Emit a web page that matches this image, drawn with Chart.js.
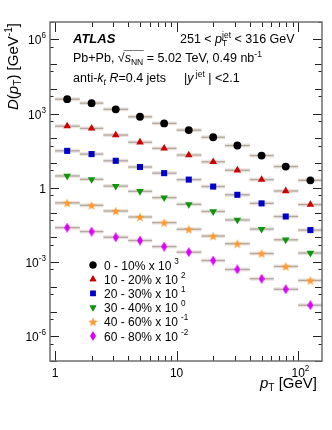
<!DOCTYPE html>
<html>
<head>
<meta charset="utf-8">
<script src="https://cdn.jsdelivr.net/npm/chart.js@4.4.1/dist/chart.umd.min.js"></script>
<style>
  html, body { margin: 0; padding: 0; background: #fff; }
  #wrap { width: 332px; height: 430px; }
</style>
</head>
<body>
<div id="wrap"><canvas id="chart" width="332" height="430"></canvas></div>
<script>
// pT bins (GeV): edges and centres
const binEdges = [1, 1.6, 2.5, 4, 6.3, 10, 16, 25, 40, 63, 100, 158];
const ptCenters = [1.26, 2.0, 3.16, 5.0, 7.9, 12.6, 20, 31.6, 50, 79, 126];

// D(pT) per centrality, already scaled as in the legend
const cent0to10 = [3800, 2630, 1480, 740, 400, 214, 110, 51, 20, 7.2, 2.0];
const cent10to20 = [309, 251, 135, 69, 39, 21, 11.2, 5.1, 2.14, 0.74, 0.21];
const cent20to30 = [31, 23, 12.3, 6.9, 3.9, 2.14, 1.12, 0.52, 0.234, 0.069, 0.0195];
const cent30to40 = [3.0, 2.19, 1.17, 0.72, 0.40, 0.214, 0.11, 0.050, 0.0214, 0.0079, 0.0023];
const cent40to60 = [0.245, 0.195, 0.115, 0.066, 0.039, 0.021, 0.0112, 0.0055, 0.0022, 0.00066, 0.00018];
const cent60to80 = [0.0245, 0.017, 0.010, 0.0074, 0.0042, 0.0025, 0.00115, 0.0005, 0.00021, 0.000079, 0.000018];

const legendLabels = ["0 - 10% x 10", "10 - 20% x 10", "20 - 30% x 10", "30 - 40% x 10", "40 - 60% x 10", "60 - 80% x 10"];
const legendExponents = ["3", "2", "1", "0", "-1", "-2"];

const xTickValues = [1, 10, 100];
const xTickLabels = [["1", ""], ["10", ""], ["10", "2"]];
const yTickValues = [1e-6, 1e-3, 1, 1e3, 1e6];
const yTickLabels = [["10", "-6"], ["10", "-3"], ["1", ""], ["10", "3"], ["10", "6"]];

const FONT = '"Liberation Sans", Arial, Helvetica, sans-serif';

function makeStar(color, size) {
  const c = document.createElement("canvas");
  c.width = size; c.height = size;
  const g = c.getContext("2d");
  const cx = size / 2, cy = size / 2, ro = size / 2, ri = ro * 0.42;
  g.beginPath();
  for (let i = 0; i < 10; i += 1) {
    const r = i % 2 === 0 ? ro : ri;
    const a = -Math.PI / 2 + (i * Math.PI) / 5;
    const px = cx + r * Math.cos(a), py = cy + r * Math.sin(a) + 0.5;
    if (i === 0) g.moveTo(px, py); else g.lineTo(px, py);
  }
  g.closePath();
  g.fillStyle = color;
  g.fill();
  return c;
}

function makeDiamond(color, w, h) {
  const c = document.createElement("canvas");
  c.width = w; c.height = h;
  const g = c.getContext("2d");
  g.beginPath();
  g.moveTo(w / 2, 0);
  g.lineTo(w, h / 2);
  g.lineTo(w / 2, h);
  g.lineTo(0, h / 2);
  g.closePath();
  g.fillStyle = color;
  g.fill();
  return c;
}

const series = [
  { values: cent0to10, color: "#000000", style: "circle", radius: 3.9, rotation: 0 },
  { values: cent10to20, color: "#cc0000", style: "triangle", radius: 4.4, rotation: 0 },
  { values: cent20to30, color: "#0000cc", style: "rect", radius: 4.3, rotation: 0 },
  { values: cent30to40, color: "#0f960f", style: "triangle", radius: 4.4, rotation: 180 },
  { values: cent40to60, color: "#ff9a33", style: makeStar("#ff9a33", 10), radius: 5, rotation: 0 },
  { values: cent60to80, color: "#dd00ff", style: makeDiamond("#dd00ff", 6, 10), radius: 5, rotation: 0 },
];

// horizontal bin-width bars with a light systematic band
const errorBars = {
  id: "errorBars",
  beforeDatasetsDraw(chart) {
    const { ctx, scales: { x, y } } = chart;
    ctx.save();
    series.forEach((s) => {
      s.values.forEach((v, j) => {
        const x0 = x.getPixelForValue(binEdges[j]);
        const x1 = x.getPixelForValue(binEdges[j + 1]);
        const py = y.getPixelForValue(v);
        ctx.fillStyle = "rgba(215,208,200,0.55)";
        ctx.fillRect(x0, py - 2, x1 - x0, 4);
        ctx.strokeStyle = "#b3a79c";
        ctx.lineWidth = 1.3;
        ctx.beginPath();
        ctx.moveTo(x0, py);
        ctx.lineTo(x1, py);
        ctx.stroke();
      });
    });
    ctx.restore();
  },
};

function drawRich(ctx, x, y, segs, size, align) {
  let w = 0;
  const pieces = segs.map((s) => {
    const fs = s.small ? size * 0.68 : size;
    const font = `${s.it ? "italic " : ""}${s.b ? "bold " : ""}${fs}px ${FONT}`;
    ctx.font = font;
    const mw = ctx.measureText(s.t).width;
    const p = { s, font, x: w + (s.dx || 0), mw };
    if (!s.stay) w += mw + (s.dx || 0);
    return p;
  });
  const x0 = align === "right" ? x - w : x;
  pieces.forEach((p) => {
    ctx.font = p.font;
    ctx.fillText(p.s.t, x0 + p.x, y + (p.s.dy || 0));
    if (p.s.over) {
      ctx.save();
      ctx.lineWidth = 0.9;
      ctx.beginPath();
      ctx.moveTo(x0 + p.x - 1, y - size * 0.92);
      ctx.lineTo(x0 + p.x + p.mw + 0.5, y - size * 0.92);
      ctx.stroke();
      ctx.restore();
    }
  });
  return w;
}

const frameAndText = {
  id: "frameAndText",
  afterDraw(chart) {
    const { ctx, chartArea: a, scales: { x, y } } = chart;
    ctx.save();
    ctx.fillStyle = "#000";
    ctx.strokeStyle = "#222";
    ctx.textBaseline = "alphabetic";

    // x ticks, inside, bottom and top
    ctx.lineWidth = 1;
    for (let d = 0; d <= 2; d += 1) {
      for (let m = 1; m <= 9; m += 1) {
        const v = m * Math.pow(10, d);
        if (v < x.min || v > x.max) continue;
        const px = Math.round(x.getPixelForValue(v)) + 0.5;
        const len = m === 1 ? 10 : 5;
        ctx.beginPath();
        ctx.moveTo(px, a.bottom); ctx.lineTo(px, a.bottom - len);
        ctx.moveTo(px, a.top); ctx.lineTo(px, a.top + len);
        ctx.stroke();
      }
    }
    // y ticks, inside, left and right
    for (let d = -7; d <= 7; d += 1) {
      [1, 5].forEach((m) => {
        const v = m * Math.pow(10, d);
        if (v < y.min || v > y.max) return;
        const py = Math.round(y.getPixelForValue(v)) + 0.5;
        const labelled = m === 1 && d % 3 === 0;
        const len = m === 1 ? (labelled ? 9 : 7) : 3.5;
        ctx.beginPath();
        ctx.moveTo(a.left, py); ctx.lineTo(a.left + len, py);
        ctx.moveTo(a.right, py); ctx.lineTo(a.right - len, py);
        ctx.stroke();
      });
    }

    // frame
    ctx.strokeStyle = "#6e6e6e";
    ctx.lineWidth = 1.5;
    ctx.strokeRect(a.left, a.top, a.right - a.left, a.bottom - a.top);

    // tick labels
    ctx.fillStyle = "#000";
    xTickValues.forEach((v, i) => {
      const px = x.getPixelForValue(v);
      const [base, exp] = xTickLabels[i];
      ctx.font = `12px ${FONT}`;
      const bw = ctx.measureText(base).width;
      drawRich(ctx, px - bw / 2, 377, [{ t: base }, { t: exp, small: true, dy: -6 }], 12);
    });
    yTickValues.forEach((v, i) => {
      const py = y.getPixelForValue(v);
      const [base, exp] = yTickLabels[i];
      drawRich(ctx, 46, py + 5, [{ t: base }, { t: exp, small: true, dy: -6 }], 12, "right");
    });

    // axis titles
    drawRich(ctx, 317, 388, [
      { t: "p", it: true }, { t: "T", small: true, dy: 3 }, { t: " [GeV]" },
    ], 15, "right");
    ctx.save();
    ctx.translate(18, 23);
    ctx.rotate(-Math.PI / 2);
    drawRich(ctx, 0, 0, [
      { t: "D", it: true }, { t: "(" }, { t: "p", it: true }, { t: "T", small: true, dy: 3 },
      { t: ") [GeV" }, { t: "-1", small: true, dy: -6 }, { t: "]" },
    ], 15, "right");
    ctx.restore();

    // annotations
    drawRich(ctx, 73, 43, [{ t: "ATLAS", it: true, b: true }], 13);
    drawRich(ctx, 180, 43, [
      { t: "251 < " }, { t: "p", it: true }, { t: "T", small: true, dy: 3, stay: true },
      { t: "jet", small: true, dy: -5 }, { t: " < 316 GeV" },
    ], 12.5);
    drawRich(ctx, 73, 62, [
      { t: "Pb+Pb, " }, { t: "√" }, { t: "s", it: true, over: true },
      { t: "NN", small: true, dy: 3, over: true }, { t: " = 5.02 TeV, 0.49 nb" },
      { t: "-1", small: true, dy: -5 },
    ], 12.5);
    drawRich(ctx, 73, 82, [
      { t: "anti-" }, { t: "k", it: true }, { t: "t", small: true, it: true, dy: 3 },
      { t: " R", it: true }, { t: "=0.4 jets" },
    ], 12.5);
    drawRich(ctx, 184, 82, [
      { t: "|" }, { t: "y", it: true }, { t: " jet", small: true, dy: -5 }, { t: " | <2.1" },
    ], 12.5);

    // legend
    series.forEach((s, i) => {
      const ly = 265 + i * 14.2;
      ctx.fillStyle = s.color;
      ctx.strokeStyle = s.color;
      Chart.helpers.drawPoint(ctx, {
        pointStyle: s.style, radius: s.radius * 0.9, rotation: s.rotation, borderWidth: 0,
      }, 93, ly);
      if (typeof s.style === "string") ctx.fill();
      ctx.fillStyle = "#000";
      drawRich(ctx, 104, ly + 4.5, [
        { t: legendLabels[i] }, { t: legendExponents[i], small: true, dy: -6, dx: 3 },
      ], 12);
    });
    ctx.restore();
  },
};

new Chart(document.getElementById("chart").getContext("2d"), {
  type: "scatter",
  data: {
    datasets: series.map((s) => ({
      data: s.values.map((v, j) => ({ x: ptCenters[j], y: v })),
      pointStyle: s.style,
      pointRadius: s.radius,
      pointRotation: s.rotation,
      backgroundColor: s.color,
      borderColor: s.color,
      borderWidth: 0,
    })),
  },
  options: {
    responsive: false,
    animation: false,
    layout: { padding: { left: 50, top: 22, right: 10, bottom: 69 } },
    plugins: { legend: { display: false }, tooltip: { enabled: false } },
    scales: {
      x: { type: "logarithmic", min: 0.91, max: 157, display: false },
      y: { type: "logarithmic", min: 1e-7, max: 5e6, display: false },
    },
  },
  plugins: [errorBars, frameAndText],
});
</script>
</body>
</html>
